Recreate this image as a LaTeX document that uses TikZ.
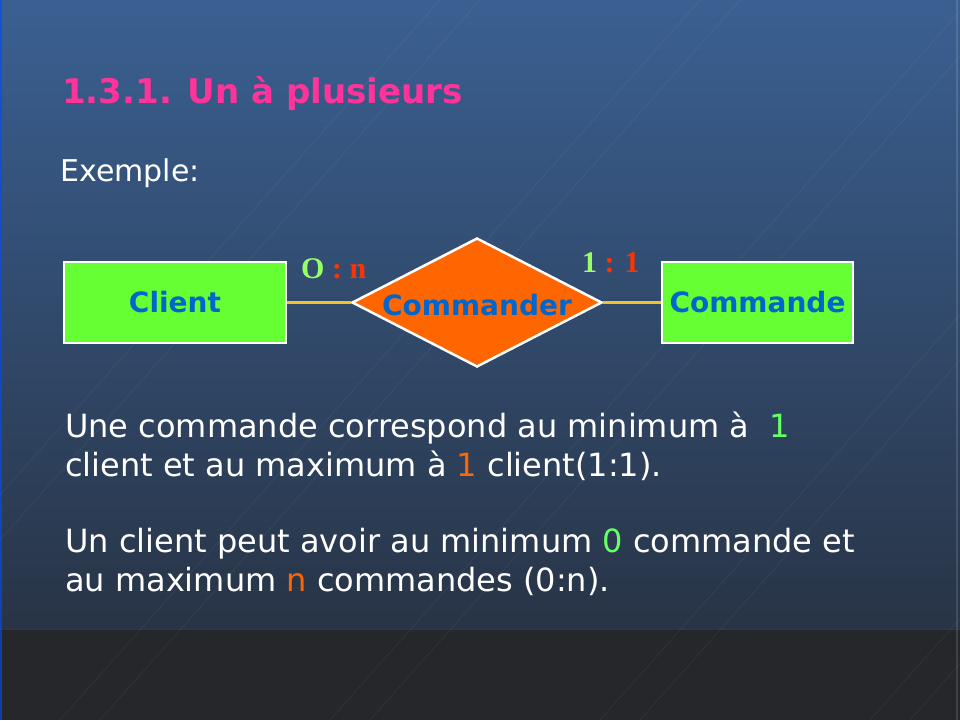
\documentclass[tikz,border=0pt]{standalone}
\usepackage{fontspec}
\setmainfont{DejaVu Sans}
\newfontfamily\labelfont{Liberation Serif}
\usetikzlibrary{shapes.geometric}

\definecolor{bgtop}{RGB}{58,96,146}
\definecolor{bgmid}{RGB}{40,52,70}
\definecolor{bgfoot}{RGB}{38,39,42}
\definecolor{titlepink}{RGB}{255,51,153}
\definecolor{entgreen}{RGB}{102,255,51}
\definecolor{entblue}{RGB}{0,102,204}
\definecolor{relorange}{RGB}{255,102,0}
\definecolor{linkyellow}{RGB}{240,196,40}
\definecolor{cardgreen}{RGB}{153,255,102}
\definecolor{cardred}{RGB}{255,51,0}
\definecolor{numgreen}{RGB}{102,255,102}
\definecolor{numorange}{RGB}{255,102,0}

\tikzset{
  entity/.style={draw=white, line width=2.5pt, fill=entgreen, inner sep=0pt,
    minimum height=81pt, text=entblue, font=\fontsize{28}{32}\selectfont\bfseries},
  relation/.style={diamond, draw=white, line width=2.5pt, fill=relorange,
    inner sep=0pt, minimum width=250pt, minimum height=129pt},
  reltext/.style={inner sep=0pt, text=entblue, font=\fontsize{28}{32}\selectfont\bfseries},
  link/.style={draw=linkyellow, line width=3.5pt},
  card/.style={inner sep=0pt, anchor=base west, font=\labelfont\fontsize{30}{34}\selectfont\bfseries},
  body/.style={inner sep=0pt, anchor=base west, text=white, font=\fontsize{32}{38}\selectfont},
  streak/.style={white, opacity=0.05, line width=0.8pt}
}

\begin{document}
\begin{tikzpicture}[x=1pt, y=-1pt]
  \useasboundingbox (0,0) rectangle (960,720);

  % slide background
  \shade[top color=bgtop, bottom color=bgmid] (0,0) rectangle (960,629);
  \fill[bgfoot] (0,629) rectangle (960,720);
  \draw[white, opacity=0.08, line width=1pt] (0,629) -- (960,629);
  \fill[blue!70!cyan, opacity=0.6] (0,0) rectangle (2,720);
  \fill[white, opacity=0.12] (956,0) rectangle (958,720);

  % faint diagonal streaks
  \foreach \s in {-200,60,330,600,870,1140} {
    \draw[streak] (\s,720) -- ++(640,-720);
    \draw[streak] (\s+40,720) -- ++(640,-720);
  }

  % heading
  \node[inner sep=0pt, anchor=base west, text=titlepink,
        font=\fontsize{34}{40}\selectfont\bfseries] (title) at (62,103)
        {1.3.1. Un à plusieurs};
  \node[inner sep=0pt, anchor=base west, text=white,
        font=\fontsize{30}{36}\selectfont] (example) at (60,181) {Exemple:};

  % entity-relationship diagram
  \node[entity, minimum width=222pt] (client) at (175,302.5) {Client};
  \node[entity, minimum width=191pt] (commande) at (757.5,302.5) {Commande};
  \node[relation] (rel) at (477,302.5) {};
  \node[reltext] (reltxt) at (477,305) {Commander};

  \draw[link] (client.east) -- (rel.west);
  \draw[link] (rel.east) -- (commande.west);

  \node[card] (cardleft) at (301,278)
    {\textcolor{cardgreen}{O} \textcolor{cardred}{: n}};
  \node[card] (cardright) at (582,272)
    {\textcolor{cardgreen}{1} \textcolor{cardred}{: 1}};

  % explanations
  \node[body] (l1) at (65,437) {Une commande correspond au minimum à \ \textcolor{numgreen}{1}};
  \node[body] (l2) at (65,476) {client et au maximum à \textcolor{numorange}{1} client(1:1).};
  \node[body] (l3) at (65,552) {Un client peut avoir au minimum \textcolor{numgreen}{0} commande et};
  \node[body] (l4) at (65,591) {au maximum \textcolor{numorange}{n} commandes (0:n).};
\end{tikzpicture}
\end{document}
